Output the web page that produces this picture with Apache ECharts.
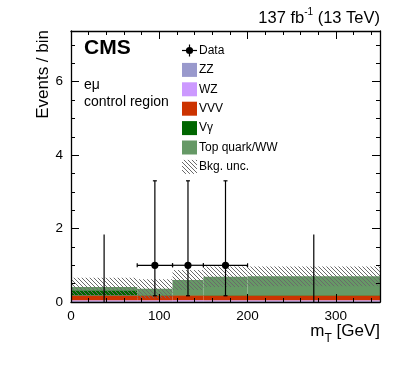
<!DOCTYPE html>
<html>
<head>
<meta charset="utf-8">
<script src="https://cdn.jsdelivr.net/npm/echarts@6/dist/echarts.min.js"></script>
<style>
html, body { margin: 0; padding: 0; background: #fff; }
#main { width: 399px; height: 379px; }
</style>
</head>
<body>
<div id="main"></div>
<script>
// bin edges, m_T [GeV]
var binEdges = [0, 75, 115, 150, 200, 350];
// backgrounds, stacked bottom to top (events / bin)
var zz = [0.02, 0.02, 0.02, 0.02, 0.02];
var wz = [0.03, 0.03, 0.03, 0.03, 0.03];
var vvv = [0.13, 0.13, 0.13, 0.13, 0.13];
var vgamma = [0.14, 0.01, 0.01, 0.01, 0.01];
var topWW = [0.09, 0.17, 0.41, 0.50, 0.51];
var bkgUnc = [0.25, 0.26, 0.27, 0.28, 0.27];
// observed data with asymmetric (Poisson) errors
var dataCounts = [0, 1, 1, 1, 0];
var errDown = [0, 0.83, 0.83, 0.83, 0];
var errUp = [1.84, 2.30, 2.30, 2.30, 1.84];

var xMax = 350;
var yMax = 7.38;
var font = "'Liberation Sans', Arial, Helvetica, sans-serif";

var components = [
    { name: 'ZZ', values: zz, color: '#9999cc' },
    { name: 'WZ', values: wz, color: '#cc99ff' },
    { name: 'VVV', values: vvv, color: '#cc3300' },
    { name: 'V\u03b3', values: vgamma, color: '#006600' },
    { name: 'Top quark/WW', values: topWW, color: '#669966' }
];

// running stack per bin
var stackTop = dataCounts.map(function () { return 0 })
components.forEach(function (c) {
    c.rows = c.values.map(function (v, i) {
        var row = [binEdges[i], binEdges[i + 1], stackTop[i], stackTop[i] + v]
        stackTop[i] += v
        return row
    })
})
var uncRows = stackTop.map(function (t, i) {
    return [binEdges[i], binEdges[i + 1], t - bkgUnc[i], t + bkgUnc[i]]
})
var dataRows = dataCounts.map(function (n, i) {
    return [(binEdges[i] + binEdges[i + 1]) / 2, n, n - errDown[i], n + errUp[i], binEdges[i], binEdges[i + 1]]
})

// hatch pattern for the uncertainty band
function makeHatch() {
    var c = document.createElement('canvas')
    c.width = 4; c.height = 4
    var ctx = c.getContext('2d')
    ctx.strokeStyle = '#6a6a6a'
    ctx.lineWidth = 1
    ctx.beginPath()
    ctx.moveTo(-1, -1); ctx.lineTo(5, 5)
    ctx.moveTo(-1, 3); ctx.lineTo(1, 5)
    ctx.moveTo(3, -1); ctx.lineTo(5, 1)
    ctx.stroke()
    return c
}
var hatch = { image: makeHatch(), repeat: 'repeat' }

function rectRenderer(fill) {
    return function (params, api) {
        var p0 = api.coord([api.value(0), api.value(3)])
        var p1 = api.coord([api.value(1), api.value(2)])
        return {
            type: 'rect',
            shape: { x: p0[0], y: p0[1], width: p1[0] - p0[0], height: p1[1] - p0[1] },
            style: { fill: fill }
        }
    }
}

function dataRenderer(params, api) {
    var xc = api.value(0), n = api.value(1)
    var lo = api.coord([xc, api.value(2)])
    var hi = api.coord([xc, api.value(3)])
    var ls = { stroke: '#000', lineWidth: 1.2 }
    var cap = 2
    var children = [
        { type: 'line', shape: { x1: lo[0], y1: lo[1], x2: hi[0], y2: hi[1] }, style: ls }
    ]
    if (n > 0) {
        var c = api.coord([xc, n])
        var l = api.coord([api.value(4), n])
        var r = api.coord([api.value(5), n])
        children.push(
            { type: 'line', shape: { x1: l[0], y1: l[1], x2: r[0], y2: r[1] }, style: ls },
            { type: 'line', shape: { x1: l[0], y1: l[1] - cap, x2: l[0], y2: l[1] + cap }, style: ls },
            { type: 'line', shape: { x1: r[0], y1: r[1] - cap, x2: r[0], y2: r[1] + cap }, style: ls },
            { type: 'line', shape: { x1: lo[0] - cap, y1: lo[1], x2: lo[0] + cap, y2: lo[1] }, style: ls },
            { type: 'line', shape: { x1: hi[0] - cap, y1: hi[1], x2: hi[0] + cap, y2: hi[1] }, style: ls },
            { type: 'circle', shape: { cx: c[0], cy: c[1], r: 3.6 }, style: { fill: '#000' } }
        )
    }
    return { type: 'group', children: children }
}

var series = components.map(function (c) {
    return {
        name: c.name,
        type: 'custom',
        renderItem: rectRenderer(c.color),
        encode: { x: [0, 1], y: [2, 3] },
        data: c.rows,
        silent: true
    }
})
series.push({
    name: 'Bkg. unc.',
    type: 'custom',
    renderItem: rectRenderer(hatch),
    encode: { x: [0, 1], y: [2, 3] },
    data: uncRows,
    silent: true
})
series.push({
    name: 'Data',
    type: 'custom',
    renderItem: dataRenderer,
    encode: { x: [0, 4, 5], y: [1, 2, 3] },
    data: dataRows,
    z: 5,
    silent: true
})

// axes: major + minor on every side (ROOT style inward ticks)
function xAx(pos, interval, len, labels, line) {
    return {
        type: 'value', position: pos, min: 0, max: xMax, interval: interval, z: 10,
        axisLine: { show: line, onZero: false, lineStyle: { color: '#000', width: 1.3 } },
        axisTick: { inside: true, length: len, lineStyle: { color: '#000', width: 1 } },
        axisLabel: labels ? { show: true, showMaxLabel: false, color: '#000', fontSize: 13.5, fontFamily: font, margin: 7 } : { show: false },
        splitLine: { show: false }
    }
}
function yAx(pos, interval, len, labels, line) {
    return {
        type: 'value', position: pos, min: 0, max: yMax, interval: interval, z: 10,
        axisLine: { show: line, onZero: false, lineStyle: { color: '#000', width: 1.3 } },
        axisTick: { inside: true, length: len, lineStyle: { color: '#000', width: 1 } },
        axisLabel: labels ? { show: true, showMaxLabel: false, color: '#000', fontSize: 13.5, fontFamily: font, margin: 8 } : { show: false },
        splitLine: { show: false }
    }
}

// legend rows, drawn by hand like the ROOT legend box
var legendY0 = 50.5, legendStep = 19.4, legendX = 182
var graphics = []
var legendItems = [{ name: 'Data', kind: 'data' }].concat(components.map(function (c) {
    return { name: c.name, kind: 'box', color: c.color }
})).concat([{ name: 'Bkg. unc.', kind: 'box', color: hatch }])
legendItems.forEach(function (it, i) {
    var y = legendY0 + i * legendStep
    if (it.kind === 'data') {
        graphics.push(
            { type: 'line', shape: { x1: legendX, y1: y, x2: legendX + 15, y2: y }, style: { stroke: '#000', lineWidth: 1.2 } },
            { type: 'line', shape: { x1: legendX + 7.5, y1: y - 6, x2: legendX + 7.5, y2: y + 6 }, style: { stroke: '#000', lineWidth: 1.2 } },
            { type: 'circle', shape: { cx: legendX + 7.5, cy: y, r: 3.6 }, style: { fill: '#000' } }
        )
    } else {
        graphics.push({ type: 'rect', shape: { x: legendX, y: y - 7, width: 15, height: 14 }, style: { fill: it.color } })
    }
    graphics.push({
        type: 'text', x: legendX + 17, y: y,
        style: { text: it.name, fill: '#000', font: '12px ' + font, verticalAlign: 'middle' }
    })
})

graphics.push(
    {
        type: 'text', x: 380, y: 17,
        style: {
            text: '{n|137 fb}{s|-1}{n| (13 TeV)}', align: 'right', verticalAlign: 'middle', fill: '#000',
            rich: {
                n: { fontSize: 16.5, fontFamily: font, fill: '#000', lineHeight: 20, verticalAlign: 'bottom' },
                s: { fontSize: 10, fontFamily: font, fill: '#000', lineHeight: 20, verticalAlign: 'top' }
            }
        }
    },
    { type: 'text', x: 84, y: 48, style: { text: 'CMS', fill: '#000', font: 'bold 21px ' + font, verticalAlign: 'middle' } },
    { type: 'text', x: 84, y: 85, style: { text: 'e\u03bc', fill: '#000', font: '14px ' + font, verticalAlign: 'middle' } },
    { type: 'text', x: 84, y: 102, style: { text: 'control region', fill: '#000', font: '14px ' + font, verticalAlign: 'middle' } },
    {
        type: 'text', x: 43, y: 30, rotation: Math.PI / 2,
        style: { text: 'Events / bin', fill: '#000', font: '17px ' + font, align: 'right', verticalAlign: 'middle' }
    },
    {
        type: 'text', x: 380, y: 334,
        style: {
            text: '{n|m}{s|T}{n| [GeV]}', align: 'right', verticalAlign: 'middle', fill: '#000',
            rich: {
                n: { fontSize: 17, fontFamily: font, fill: '#000', lineHeight: 22, verticalAlign: 'top' },
                s: { fontSize: 12, fontFamily: font, fill: '#000', lineHeight: 22, verticalAlign: 'bottom' }
            }
        }
    }
)

var myChart = echarts.init(document.getElementById('main'), null, { renderer: 'canvas' })
myChart.setOption({
    animation: false,
    grid: { left: 71, right: 19, top: 31, bottom: 77 },
    xAxis: [
        xAx('bottom', 100, 8, true, true),
        xAx('bottom', 20, 4, false, false),
        xAx('top', 100, 8, false, true),
        xAx('top', 20, 4, false, false)
    ],
    yAxis: [
        yAx('left', 2, 8, true, true),
        yAx('left', 0.5, 4, false, false),
        yAx('right', 2, 8, false, true),
        yAx('right', 0.5, 4, false, false)
    ],
    series: series,
    graphic: graphics
})
</script>
</body>
</html>
